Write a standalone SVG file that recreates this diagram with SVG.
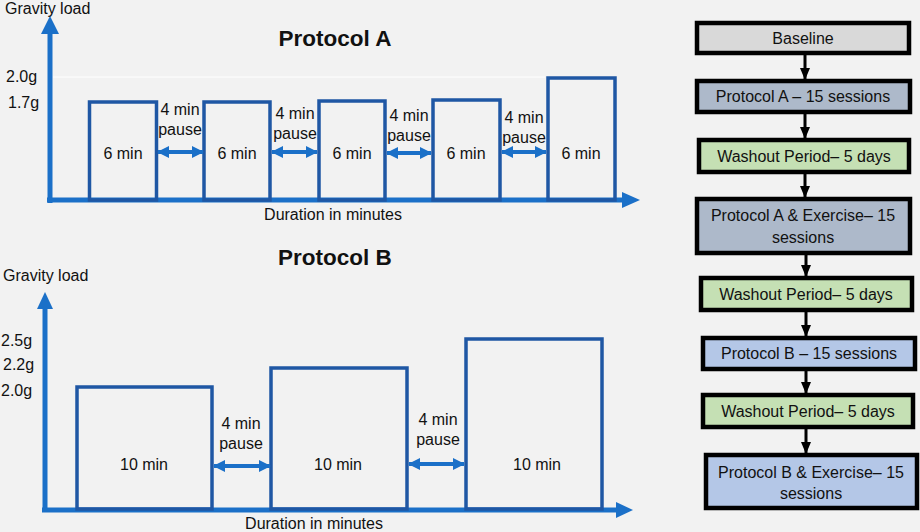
<svg xmlns="http://www.w3.org/2000/svg" width="920" height="532" viewBox="0 0 920 532">
<defs>
<style>
text{font-family:"Liberation Sans",Arial,sans-serif;font-size:16px;fill:#111}
.t{font-weight:bold;font-size:22.5px;text-anchor:middle}
.c{text-anchor:middle}
.bar{fill:none;stroke:#1f57a4;stroke-width:3.5}
.ax{stroke:#1b70c8;stroke-width:5;fill:none}
.axh{fill:#1b70c8}
.dbl{stroke:#1b70c8;stroke-width:4;fill:none;marker-start:url(#dh);marker-end:url(#dh)}
.fb{stroke:#000;stroke-width:4.5}
.fl{stroke:#000;stroke-width:3;fill:none;marker-end:url(#fh)}
</style>
<marker id="dh" markerUnits="userSpaceOnUse" viewBox="0 0 12 12" refX="11" refY="6" markerWidth="12" markerHeight="12" orient="auto-start-reverse">
<path d="M0,0 L12,6 L0,12 Z" fill="#1b70c8"/>
</marker>
<marker id="fh" markerUnits="userSpaceOnUse" viewBox="0 0 12 10" refX="11" refY="5" markerWidth="12" markerHeight="10" orient="auto">
<path d="M0,0 L12,5 L0,10 Z" fill="#000"/>
</marker>
</defs>
<rect x="0" y="0" width="920" height="532" fill="#f2f2f2"/>

<g id="protocolA">
<text class="t" x="335" y="46">Protocol A</text>
<text x="5" y="14">Gravity load</text>
<text x="6" y="82">2.0g</text>
<text x="8" y="108">1.7g</text>
<line x1="53" y1="77" x2="545" y2="77" stroke="#ffffff" stroke-width="1"/>
<g id="a-axes">
<line class="ax" x1="50" y1="203" x2="50" y2="30"/>
<path class="axh" d="M41,34 L50,16 L59,34 Z"/>
<line class="ax" x1="47" y1="200" x2="626" y2="200"/>
<path class="axh" d="M622,192 L640,200 L622,208 Z"/>
</g>
<g id="a-bar1"><rect class="bar" x="89.5" y="102" width="67" height="98"/><text class="c" x="123" y="159">6 min</text></g>
<g id="a-bar2"><rect class="bar" x="204" y="102" width="66" height="98"/><text class="c" x="237" y="159">6 min</text></g>
<g id="a-bar3"><rect class="bar" x="319" y="101" width="66" height="99"/><text class="c" x="352" y="159">6 min</text></g>
<g id="a-bar4"><rect class="bar" x="433" y="100" width="67" height="100"/><text class="c" x="466" y="159">6 min</text></g>
<g id="a-bar5"><rect class="bar" x="548" y="78" width="67" height="122"/><text class="c" x="581" y="159">6 min</text></g>
<g id="a-pauses">
<text class="c" x="180" y="115">4 min</text><text class="c" x="180" y="135">pause</text>
<text class="c" x="295" y="119">4 min</text><text class="c" x="295" y="139">pause</text>
<text class="c" x="409" y="121">4 min</text><text class="c" x="409" y="141">pause</text>
<text class="c" x="524" y="123">4 min</text><text class="c" x="524" y="143">pause</text>
</g>
<g id="a-connectors">
<line class="dbl" x1="158" y1="152" x2="203" y2="152"/>
<line class="dbl" x1="272" y1="152" x2="317" y2="152"/>
<line class="dbl" x1="387" y1="153" x2="431" y2="153"/>
<line class="dbl" x1="502" y1="152" x2="546" y2="152"/>
</g>
<text class="c" x="333" y="220">Duration in minutes</text>
</g>

<g id="protocolB">
<text class="t" x="335" y="265">Protocol B</text>
<text x="3" y="281">Gravity load</text>
<text x="1" y="346">2.5g</text>
<text x="3" y="370">2.2g</text>
<text x="1" y="396">2.0g</text>
<g id="b-axes">
<line class="ax" x1="45" y1="512" x2="45" y2="305"/>
<path class="axh" d="M37,309 L45,292 L53,309 Z"/>
<line class="ax" x1="42" y1="510" x2="620" y2="510"/>
<path class="axh" d="M616,502 L633,510 L616,518 Z"/>
</g>
<g id="b-bar1"><rect class="bar" x="77" y="387" width="135" height="122"/><text class="c" x="144" y="470">10 min</text></g>
<g id="b-bar2"><rect class="bar" x="271" y="368" width="136" height="141"/><text class="c" x="338" y="470">10 min</text></g>
<g id="b-bar3"><rect class="bar" x="466" y="339" width="136" height="170"/><text class="c" x="537" y="470">10 min</text></g>
<g id="b-pauses">
<text class="c" x="241" y="429">4 min</text><text class="c" x="241" y="449">pause</text>
<text class="c" x="438" y="425">4 min</text><text class="c" x="438" y="445">pause</text>
</g>
<g id="b-connectors">
<line class="dbl" x1="214" y1="466" x2="270" y2="466"/>
<line class="dbl" x1="409" y1="464" x2="464" y2="464"/>
</g>
<text class="c" x="314" y="529">Duration in minutes</text>
</g>

<g id="flow-baseline"><rect class="fb" x="697" y="23" width="212" height="30" fill="#d9d9d9"/><text class="c" x="803" y="44">Baseline</text></g>
<g id="flow-protA"><rect class="fb" x="697" y="81" width="213" height="31" fill="#adb9ca"/><text class="c" x="803" y="102">Protocol A – 15 sessions</text></g>
<g id="flow-wash1"><rect class="fb" x="699" y="140" width="210" height="32" fill="#c5e0b4"/><text class="c" x="804" y="162">Washout Period– 5 days</text></g>
<g id="flow-protAex"><rect class="fb" x="697" y="199" width="213" height="54" fill="#adb9ca"/><text class="c" x="803" y="221">Protocol A &amp; Exercise– 15</text><text class="c" x="803" y="243">sessions</text></g>
<g id="flow-wash2"><rect class="fb" x="701" y="278" width="211" height="32" fill="#c5e0b4"/><text class="c" x="806" y="300">Washout Period– 5 days</text></g>
<g id="flow-protB"><rect class="fb" x="703" y="338" width="212" height="31" fill="#b4c7e7"/><text class="c" x="809" y="359">Protocol B – 15 sessions</text></g>
<g id="flow-wash3"><rect class="fb" x="703" y="395" width="210" height="32" fill="#c5e0b4"/><text class="c" x="808" y="417">Washout Period– 5 days</text></g>
<g id="flow-protBex"><rect class="fb" x="706" y="455" width="211" height="53" fill="#b4c7e7"/><text class="c" x="811" y="478">Protocol B &amp; Exercise– 15</text><text class="c" x="811" y="499">sessions</text></g>

<g id="flow-connectors">
<line class="fl" x1="805" y1="55" x2="805" y2="79"/>
<line class="fl" x1="805" y1="114" x2="805" y2="138"/>
<line class="fl" x1="805" y1="174" x2="805" y2="197"/>
<line class="fl" x1="806" y1="255" x2="806" y2="276"/>
<line class="fl" x1="806" y1="312" x2="806" y2="336"/>
<line class="fl" x1="806" y1="371" x2="806" y2="393"/>
<line class="fl" x1="806" y1="429" x2="806" y2="453"/>
</g>
</svg>
